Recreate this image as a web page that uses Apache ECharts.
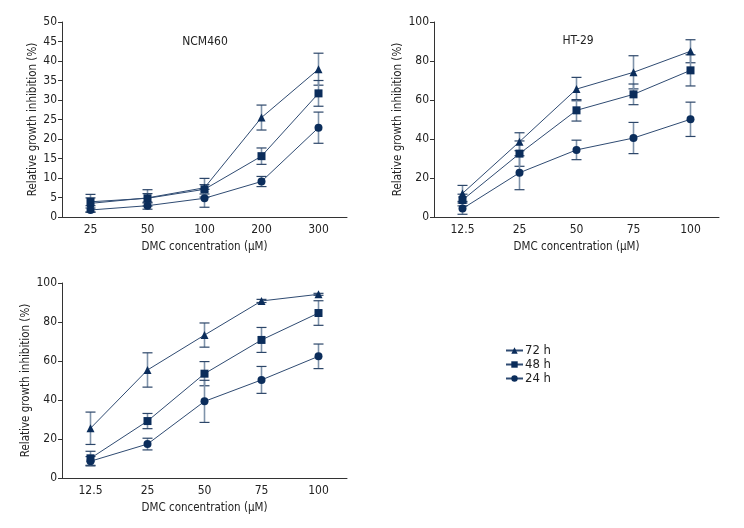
<!DOCTYPE html>
<html>
<head>
<meta charset="utf-8">
<script src="https://cdn.jsdelivr.net/npm/echarts@6/dist/echarts.min.js"></script>
<style>
html,body{margin:0;padding:0;background:#fff;}
#chart{width:744px;height:528px;}
</style>
</head>
<body>
<div id="chart"></div>
<script>
// ---- data ----
const catsNCM = ['25', '50', '100', '200', '300'];
const catsHT = ['12.5', '25', '50', '75', '100'];
const seriesNames = ['72 h', '48 h', '24 h'];

// Panel 1: NCM460
const ncm72 = [3.5, 4.9, 7.5, 25.5, 37.9];
const ncm72Err = [2.3, 2.1, 2.4, 3.2, 4.1];
const ncm48 = [3.9, 4.8, 7.1, 15.6, 31.7];
const ncm48Err = [1.0, 1.2, 1.2, 2.1, 3.3];
const ncm24 = [1.8, 2.9, 4.8, 9.1, 22.9];
const ncm24Err = [0.5, 0.9, 2.3, 1.3, 4.0];

// Panel 2: HT-29
const ht72 = [12.1, 38.6, 65.6, 74.2, 85.0];
const ht72Err = [4.1, 4.6, 6.0, 8.5, 5.9];
const ht48 = [8.7, 32.5, 54.7, 62.9, 75.2];
const ht48Err = [3.0, 6.5, 5.5, 5.3, 8.0];
const ht24 = [4.3, 22.7, 34.4, 40.5, 50.1];
const ht24Err = [2.9, 8.7, 5.0, 8.0, 8.8];

// Panel 3
const p3_72 = [25.5, 55.4, 73.3, 90.8, 94.2];
const p3_72Err = [8.3, 8.8, 6.2, 0.8, 0.5];
const p3_48 = [10.1, 29.2, 53.5, 70.8, 84.6];
const p3_48Err = [3.6, 3.9, 6.2, 6.4, 6.3];
const p3_24 = [8.6, 17.4, 39.3, 50.3, 62.4];
const p3_24Err = [2.4, 3.0, 10.8, 6.9, 6.3];

const yTicksNCM = {min: 0, max: 50, interval: 5};
const yTicksHT = {min: 0, max: 100, interval: 20};

// ---- styling ----
const FONT = "'Liberation Sans Narrow', 'DejaVu Sans Condensed', 'Noto Sans', sans-serif";
const NAVY = '#0b2d5b';
const LINE = '#2f4b72';
const ERR = '#7f93aa';
const CAP = '#2c4669';
const symbols = ['triangle', 'rect', 'circle'];
const symSizes = [8, 8, 8];

const chart = echarts.init(document.getElementById('chart'), null, {renderer: 'canvas'});

const grids = [
  {left: 62, top: 22, width: 285, height: 195},
  {left: 434, top: 22, width: 285, height: 195},
  {left: 62, top: 283, width: 285, height: 195}
];

function xAxis(cats, gi) {
  return {
    type: 'category', gridIndex: gi, data: cats,
    name: 'DMC concentration (\u03bcM)', nameLocation: 'middle', nameGap: 24,
    nameTextStyle: {fontFamily: FONT, fontSize: 11.5, color: '#222'},
    axisLine: {lineStyle: {color: '#333', width: 1}},
    axisTick: {alignWithLabel: true, length: 4, lineStyle: {color: '#333'}},
    axisLabel: {fontFamily: FONT, fontSize: 12, color: '#222', margin: 7},
    splitLine: {show: false}
  };
}
function yAxis(t, gi) {
  return {
    type: 'value', gridIndex: gi, min: t.min, max: t.max, interval: t.interval,
    name: 'Relative growth inhibition (%)', nameLocation: 'middle', nameGap: 23,
    nameRotate: 90,
    nameTextStyle: {fontFamily: FONT, fontSize: 11.5, color: '#222'},
    axisLine: {show: true, lineStyle: {color: '#333', width: 1}},
    axisTick: {show: true, length: 4, lineStyle: {color: '#333'}},
    axisLabel: {fontFamily: FONT, fontSize: 12, color: '#222', margin: 5},
    splitLine: {show: false}
  };
}

const panels = [
  {vals: [ncm72, ncm48, ncm24], errs: [ncm72Err, ncm48Err, ncm24Err]},
  {vals: [ht72, ht48, ht24], errs: [ht72Err, ht48Err, ht24Err]},
  {vals: [p3_72, p3_48, p3_24], errs: [p3_72Err, p3_48Err, p3_24Err]}
];

function errRender(params, api) {
  const x = api.value(0), v = api.value(1), e = api.value(2);
  const top = api.coord([x, v + e]);
  const bot = api.coord([x, v - e]);
  const hw = 5;
  return {
    type: 'group',
    children: [
      {type: 'line', shape: {x1: top[0], y1: top[1], x2: bot[0], y2: bot[1]},
       style: {stroke: ERR, lineWidth: 1.6}},
      {type: 'line', shape: {x1: top[0] - hw, y1: top[1], x2: top[0] + hw, y2: top[1]},
       style: {stroke: CAP, lineWidth: 1.2}},
      {type: 'line', shape: {x1: bot[0] - hw, y1: bot[1], x2: bot[0] + hw, y2: bot[1]},
       style: {stroke: CAP, lineWidth: 1.2}}
    ]
  };
}

const series = [];
panels.forEach((p, gi) => {
  p.vals.forEach((vals, si) => {
    series.push({
      type: 'custom', name: seriesNames[si] + ' err' + gi,
      xAxisIndex: gi, yAxisIndex: gi, z: 1, silent: true,
      renderItem: errRender,
      data: vals.map((v, i) => [i, v, p.errs[si][i]])
    });
  });
  p.vals.forEach((vals, si) => {
    series.push({
      type: 'line', name: seriesNames[si], xAxisIndex: gi, yAxisIndex: gi, z: 3,
      data: vals, symbol: symbols[si], symbolSize: symSizes[si],
      showAllSymbol: true,
      lineStyle: {color: LINE, width: 1},
      itemStyle: {color: NAVY, borderWidth: 0},
      animation: false
    });
  });
});

chart.setOption({
  animation: false,
  backgroundColor: '#fff',
  grid: grids,
  xAxis: [xAxis(catsNCM, 0), xAxis(catsHT, 1), xAxis(catsHT, 2)],
  yAxis: [yAxis(yTicksNCM, 0), yAxis(yTicksHT, 1), yAxis(yTicksHT, 2)],
  legend: {
    data: seriesNames, orient: 'vertical', left: 505, top: 344,
    itemWidth: 17, itemHeight: 8, itemGap: 1,
    textStyle: {fontFamily: FONT, fontSize: 13, color: '#222', padding: [0, 0, 0, -3]},
    padding: 0
  },
  graphic: [
    {type: 'text', x: 205, y: 42, style: {text: 'NCM460', font: '12px ' + FONT, fill: '#222', textAlign: 'center', textVerticalAlign: 'middle'}},
    {type: 'text', x: 578, y: 41, style: {text: 'HT-29', font: '12px ' + FONT, fill: '#222', textAlign: 'center', textVerticalAlign: 'middle'}}
  ],
  series: series
});
</script>
</body>
</html>
